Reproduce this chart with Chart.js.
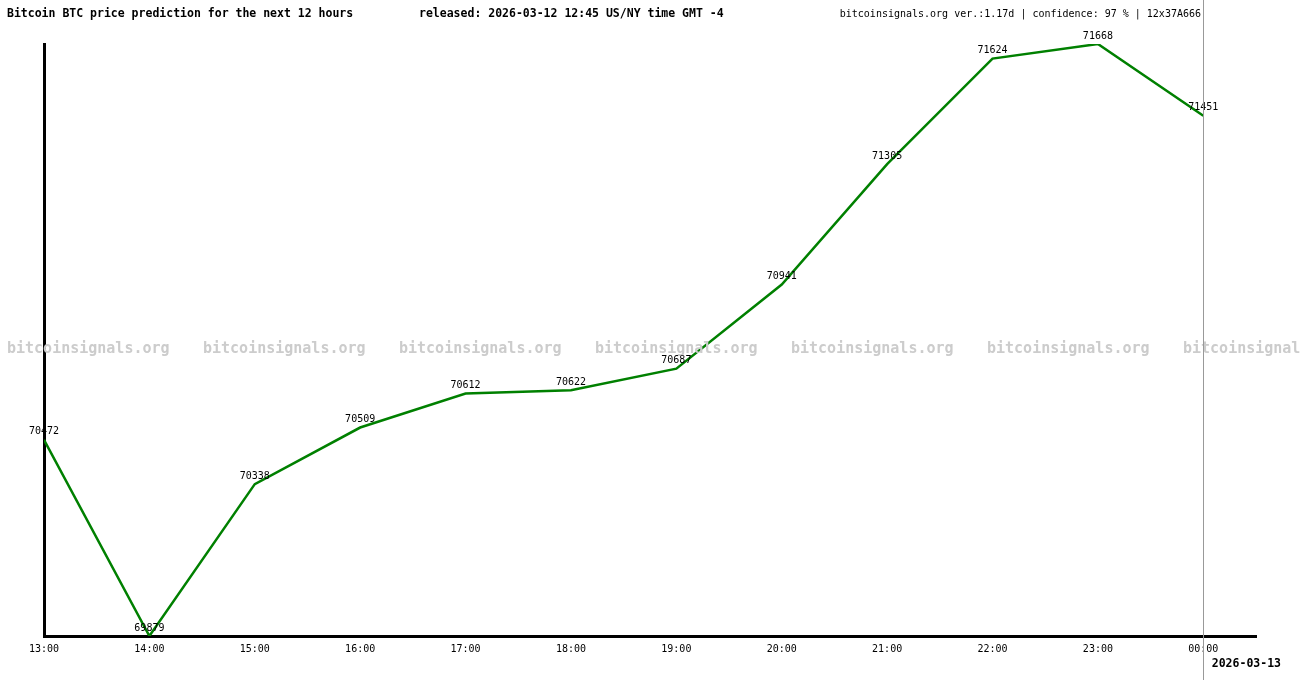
<!DOCTYPE html>
<html>
<head>
<meta charset="utf-8">
<script src="https://cdn.jsdelivr.net/npm/chart.js@4/dist/chart.umd.min.js"></script>
<style>
html,body{margin:0;padding:0;background:#fff;}
canvas{display:block;}
</style>
</head>
<body>
<canvas id="c" width="1300" height="680"></canvas>
<script>
// data
const hours = ['13:00','14:00','15:00','16:00','17:00','18:00','19:00','20:00','21:00','22:00','23:00','00:00'];
const prices = [70472, 69879, 70338, 70509, 70612, 70622, 70687, 70941, 71305, 71624, 71668, 71451];
const titleLeft = 'Bitcoin BTC price prediction for the next 12 hours';
const titleMid = 'released: 2026-03-12 12:45 US/NY time GMT -4';
const titleRight = 'bitcoinsignals.org ver.:1.17d | confidence: 97 % | 12x37A666';
const nextDate = '2026-03-13';
const watermark = 'bitcoinsignals.org';

const mono = '"DejaVu Sans Mono", "Liberation Mono", monospace';

const decor = {
  id: 'decor',
  afterDatasetsDraw(chart){
    const ctx = chart.ctx;
    const xs = chart.scales.x, ys = chart.scales.y;
    ctx.save();
    // watermark row
    ctx.font = 'bold 15px ' + mono;
    ctx.fillStyle = '#cccccc';
    ctx.textBaseline = 'middle';
    ctx.textAlign = 'left';
    for(let x = 7; x < 1300; x += 196){
      ctx.fillText(watermark, x, 349);
    }
    // value labels
    ctx.font = '10px ' + mono;
    ctx.fillStyle = '#000';
    ctx.textAlign = 'center';
    prices.forEach((v, i)=>{
      ctx.fillText(String(v), xs.getPixelForValue(i), ys.getPixelForValue(v) - 8);
    });
    // vertical marker at last hour
    const xl = Math.round(xs.getPixelForValue(hours.length - 1)) + 0.5;
    ctx.strokeStyle = '#999';
    ctx.lineWidth = 1;
    ctx.beginPath(); ctx.moveTo(xl, 0); ctx.lineTo(xl, 680); ctx.stroke();
    // header
    ctx.textAlign = 'left';
    ctx.font = 'bold 11.5px ' + mono;
    ctx.fillText(titleLeft, 7, 14);
    ctx.fillText(titleMid, 419, 14);
    ctx.font = '10px ' + mono;
    ctx.textAlign = 'right';
    ctx.fillText(titleRight, 1201, 14);
    ctx.font = 'bold 11.5px ' + mono;
    ctx.fillText(nextDate, 1281, 664);
    ctx.restore();
  }
};

new Chart(document.getElementById('c').getContext('2d'), {
  type: 'line',
  data: {
    datasets: [{
      data: prices.map((v, i)=>({x: i, y: v})),
      borderColor: '#008000',
      borderWidth: 2.5,
      pointRadius: 0,
      tension: 0,
      fill: false
    }]
  },
  options: {
    responsive: false,
    animation: false,
    devicePixelRatio: 1,
    layout: { padding: { left: 44, top: 44, right: 44, bottom: 0 } },
    plugins: { legend: { display: false }, tooltip: { enabled: false } },
    scales: {
      x: {
        type: 'linear', min: 0, max: 11.5,
        grid: { display: false, drawTicks: false },
        border: { color: '#000', width: 3 },
        afterBuildTicks: s => { s.ticks = hours.map((h, i)=>({value: i})); },
        afterFit: s => { s.height = 44; },
        ticks: {
          padding: 7,
          color: '#000',
          font: { family: mono, size: 10 },
          maxRotation: 0, autoSkip: false,
          callback: v => hours[v]
        }
      },
      y: {
        min: 69879, max: 71668,
        grid: { display: false, drawTicks: false },
        border: { color: '#000', width: 3 },
        ticks: { display: false },
        afterFit: s => { s.width = 0; }
      }
    }
  },
  plugins: [decor]
});
</script>
</body>
</html>
